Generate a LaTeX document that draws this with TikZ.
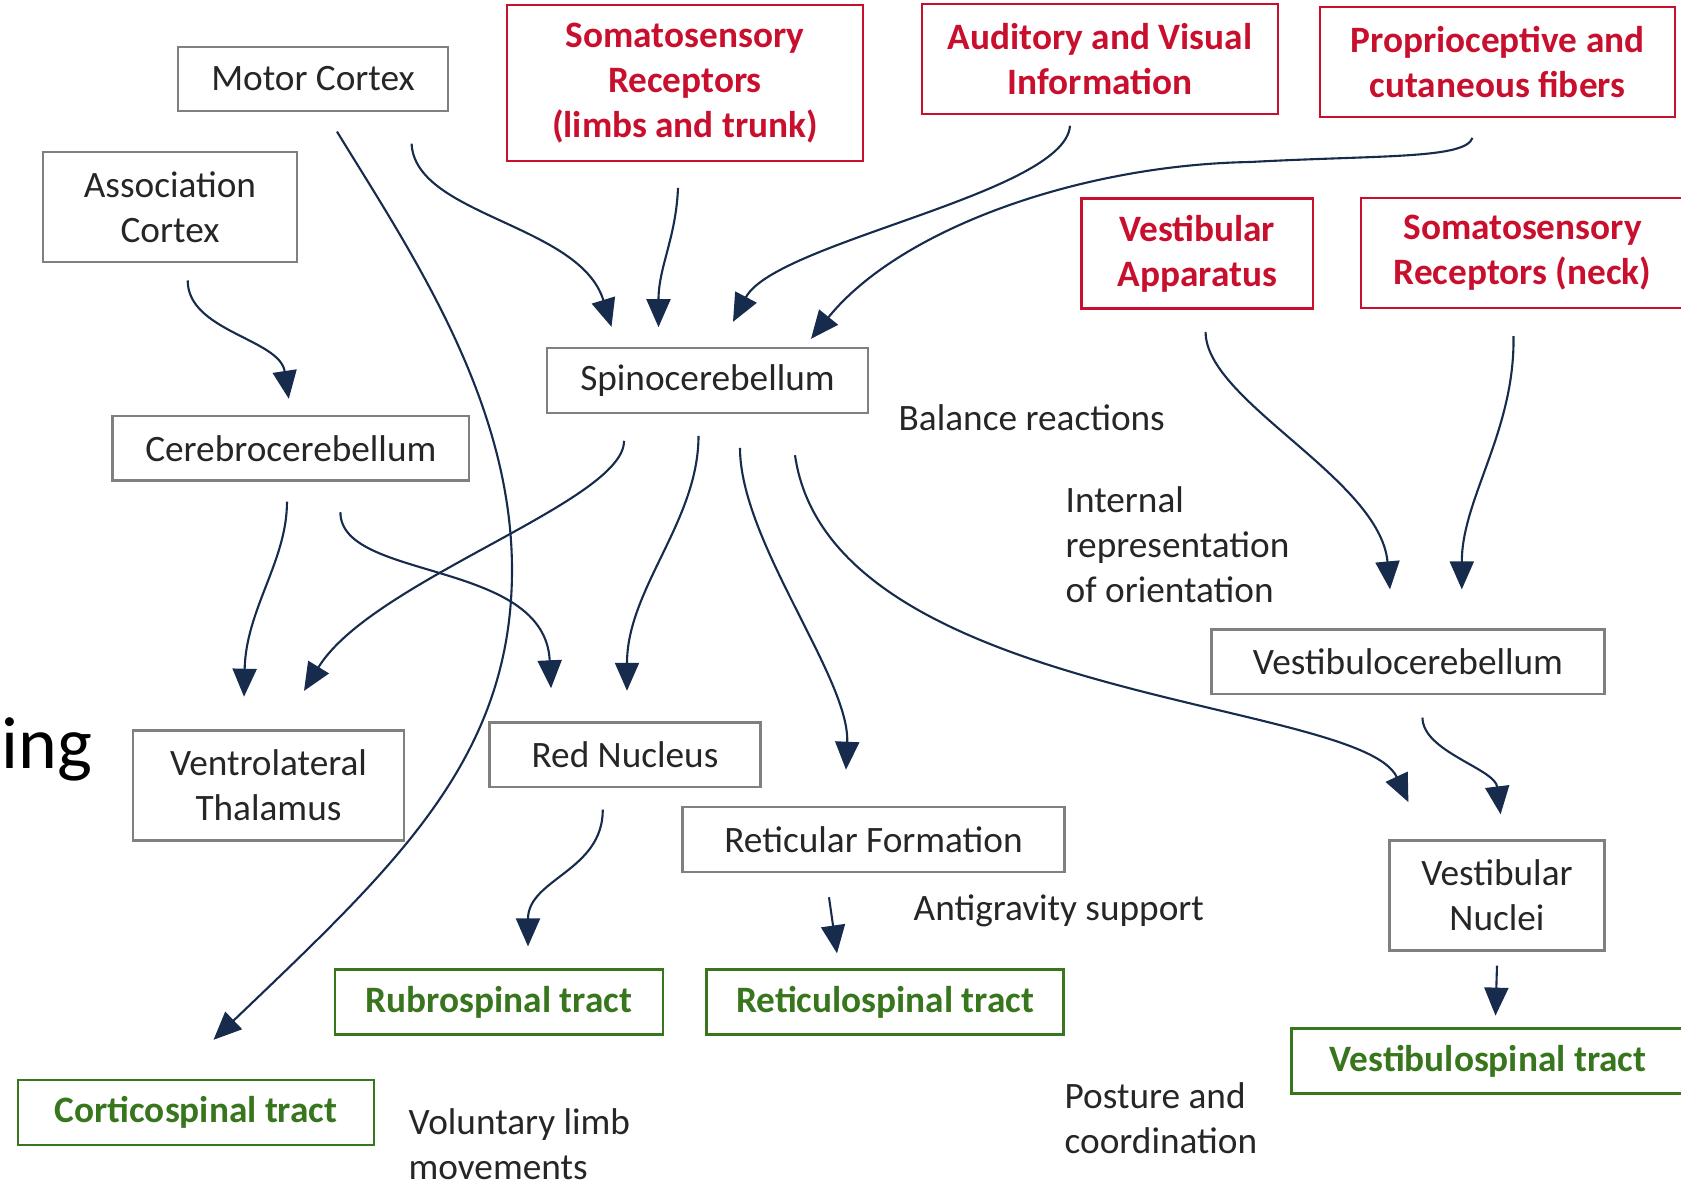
\documentclass[tikz,border=0pt]{standalone}
\usepackage{fontspec}
\setmainfont{Carlito}
\usetikzlibrary{arrows.meta,calc}

\definecolor{boxgray}{RGB}{128,128,128}
\definecolor{srcred}{RGB}{200,16,46}
\definecolor{tractgreen}{RGB}{56,118,29}
\definecolor{linkblue}{RGB}{23,43,77}
\definecolor{notetext}{RGB}{38,38,38}

\tikzset{
  nucleus/.style={draw=boxgray, line width=0.65pt, align=center, inner sep=0pt,
    text=notetext, font=\fontsize{10.6}{12.8}\selectfont},
  source/.style={nucleus, draw=srcred, text=srcred, font=\bfseries\fontsize{10.6}{12.8}\selectfont},
  tract/.style={nucleus, draw=tractgreen, text=tractgreen, font=\bfseries\fontsize{10.6}{12.8}\selectfont},
  note/.style={anchor=west, align=left, inner sep=0pt, text=notetext, font=\fontsize{10.6}{12.8}\selectfont},
  link/.style={draw=linkblue, line width=0.6pt, -{Triangle[length=2.8mm,width=2.4mm]}}
}

\begin{document}
\begin{tikzpicture}[x=0.01cm, y=-0.01cm]
  \useasboundingbox (0,0) rectangle (1681,1184);
  \clip (0,0) rectangle (1681,1184);

  % inputs and nuclei
  \node[nucleus, minimum width=2.70cm, minimum height=0.645cm] (motor) at (313,79) {Motor Cortex};
  \node[source, minimum width=3.56cm, minimum height=1.56cm] (somlimb) at (685,83) {Somatosensory\\Receptors\\(limbs and trunk)};
  \node[source, minimum width=3.56cm, minimum height=1.10cm] (audvis) at (1100,59) {Auditory and Visual\\Information};
  \node[source, minimum width=3.55cm, minimum height=1.10cm] (proprio) at (1497.5,61.7) {Proprioceptive and\\cutaneous fibers};
  \node[nucleus, minimum width=2.54cm, minimum height=1.10cm] (assoc) at (170,207) {Association\\Cortex};
  \node[nucleus, minimum width=3.21cm, minimum height=0.65cm] (spino) at (707.5,380.5) {Spinocerebellum};
  \node[nucleus, minimum width=3.565cm, minimum height=0.645cm] (cerebro) at (290.8,448.2) {Cerebrocerebellum};
  \node[nucleus, minimum width=2.71cm, minimum height=1.10cm] (ventro) at (268.5,785.5) {Ventrolateral\\Thalamus};
  \node[nucleus, minimum width=2.71cm, minimum height=0.645cm] (rednuc) at (625,754.8) {Red Nucleus};
  \node[nucleus, minimum width=3.82cm, minimum height=0.65cm] (retform) at (873.5,839.8) {Reticular Formation};
  \node[source, minimum width=2.315cm, minimum height=1.10cm] (vestapp) at (1197.2,253.5) {Vestibular\\Apparatus};
  \node[source, minimum width=3.23cm, minimum height=1.10cm] (somneck) at (1522.5,253) {Somatosensory\\Receptors (neck)};
  \node[nucleus, minimum width=3.93cm, minimum height=0.645cm] (vestcb) at (1408,661.8) {Vestibulocerebellum};
  \node[nucleus, minimum width=2.15cm, minimum height=1.10cm] (vestnuc) at (1497,895.4) {Vestibular\\Nuclei};

  % descending tracts
  \node[tract, minimum width=3.275cm, minimum height=0.65cm] (rubro) at (498.8,1002) {Rubrospinal tract};
  \node[tract, minimum width=3.57cm, minimum height=0.65cm] (reticulo) at (885,1002) {Reticulospinal tract};
  \node[tract, minimum width=3.565cm, minimum height=0.645cm] (cortico) at (196,1112.5) {Corticospinal tract};
  \node[tract, minimum width=3.93cm, minimum height=0.65cm] (vestspinal) at (1488,1061) {Vestibulospinal tract};

  % side notes
  \node[note] (balance) at (898,418) {Balance reactions};
  \node[note] (orient) at (1065,545) {Internal\\representation\\of orientation};
  \node[note] (antigrav) at (913,911) {Antigravity support};
  \node[note] (posture) at (1064,1118) {Posture and\\coordination};
  \node[note] (voluntary) at (408,1144) {Voluntary limb\\movements};
  \node[anchor=east, inner sep=0pt, font=\fontsize{21}{25}\selectfont] (titlefrag) at (93,749) {ing};

  % into spinocerebellum
  \draw[link] ($(motor.south)+(98.6,31.2)$) .. controls +(3.4,72.3) and +(-31.4,-103) .. ($(spino.north)+(-96,-20)$);
  \draw[link] ($(somlimb.south)+(-7,25.7)$) .. controls +(-2,50) and +(0,-60) .. ($(spino.north)+(-49,-19.7)$);
  \draw[link] ($(audvis.south)+(-30,10.6)$) .. controls +(-5,68) and +(42,-80) .. ($(spino.north)+(25.5,-25)$);
  \draw[link] ($(proprio.south)+(-25,20)$) .. controls +(-7.5,21.3) and +(130,-7) .. (1250,162)
    .. controls +(-170,3) and +(89,-110) .. ($(spino.north)+(103.5,-8)$);

  % cortex
  \draw[link] ($(assoc.south)+(17.7,17.3)$) .. controls +(0,51) and +(-9,-60) .. ($(cerebro.north)+(-2,-16)$);
  \draw[link] ($(motor.south)+(24,19.2)$) .. controls +(73,119.3) and +(0,-170) .. (512,570)
    .. controls +(0,190) and +(180,-172.5) .. ($(cortico.north)+(17.5,-39.3)$);

  % out of the cerebellum
  \draw[link] ($(spino.south)+(-83.5,26.6)$) .. controls +(1,60.4) and +(67.6,-110.5) .. ($(ventro.north)+(35.5,-38.4)$);
  \draw[link] ($(cerebro.south)+(-3.8,20)$) .. controls +(0,59.6) and +(2,-87.8) .. ($(ventro.north)+(-24.5,-32.6)$);
  \draw[link] ($(cerebro.south)+(49.6,30.6)$) .. controls +(0,69) and +(-6,-129.5) .. ($(rednuc.north)+(-74,-33.1)$);
  \draw[link] ($(spino.south)+(-9,21.6)$) .. controls +(0,85.4) and +(0,-102) .. ($(rednuc.north)+(2,-30.6)$);
  \draw[link] ($(spino.south)+(32.5,33.8)$) .. controls +(0,93) and +(4,-91) .. ($(retform.north)+(-27.5,-36.4)$);
  \draw[link] ($(spino.south)+(87.5,41)$) .. controls +(35,246) and +(-48,-103.5) .. ($(vestnuc.north)+(-88.6,-37.1)$);

  % vestibular side
  \draw[link] ($(vestapp.south)+(8.4,22.3)$) .. controls +(0,69) and +(-10,-110.6) .. ($(vestcb.north)+(-18,-39)$);
  \draw[link] ($(somneck.south)+(-9,27)$) .. controls +(1.5,95) and +(0,-90.6) .. ($(vestcb.north)+(53.8,-39)$);
  \draw[link] ($(vestcb.south)+(14.5,22.4)$) .. controls +(0,34) and +(-5.6,-45.7) .. ($(vestnuc.north)+(3.6,-24.9)$);

  % down to the tracts
  \draw[link] ($(rednuc.south)+(-22.2,21.4)$) .. controls +(0,61.6) and +(0,-67.8) .. ($(rubro.north)+(29.2,-21.9)$);
  \draw[link] ($(retform.south)+(-44.5,23.8)$) -- ($(reticulo.north)+(-48,-15)$);
  \draw[link] ($(vestnuc.south)+(0,14)$) -- ($(vestspinal.north)+(7.5,-11.7)$);
\end{tikzpicture}
\end{document}
